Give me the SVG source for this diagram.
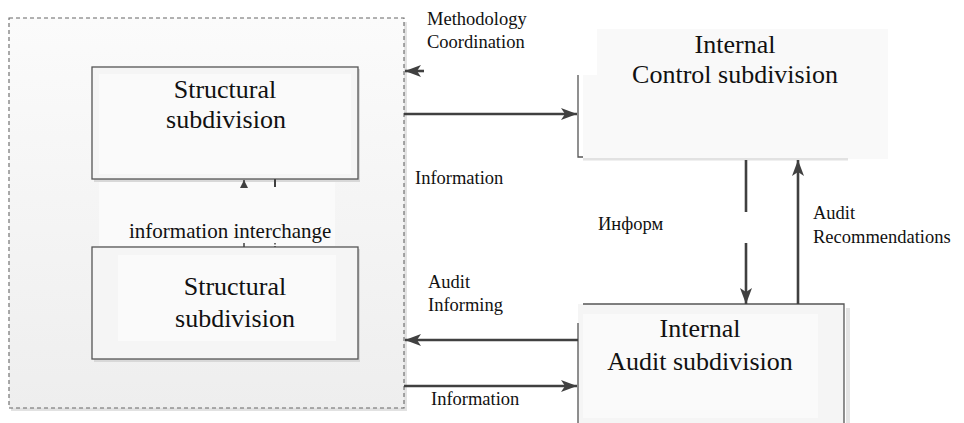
<svg xmlns="http://www.w3.org/2000/svg" width="964" height="423" viewBox="0 0 964 423">
<defs>
<linearGradient id="bg" x1="0" y1="0" x2="0" y2="1">
<stop offset="0" stop-color="#fbfbfb"/>
<stop offset="1" stop-color="#eeeeee"/>
</linearGradient>
<marker id="ah" viewBox="0 0 16 12" refX="16" refY="6" markerWidth="16" markerHeight="12" markerUnits="userSpaceOnUse" orient="auto">
<path d="M0,0 L16,6 L0,12 L4,6 Z" fill="#404040"/>
</marker>
<marker id="ahs" viewBox="0 0 8 8" refX="8" refY="4" markerWidth="8" markerHeight="8" markerUnits="userSpaceOnUse" orient="auto">
<path d="M0,0 L8,4 L0,8 Z" fill="#404040"/>
</marker>
</defs>
<style>
.lbl{font-family:"Liberation Serif","Times New Roman",serif;font-size:18.5px;fill:#111}
.big{font-family:"Liberation Serif","Times New Roman",serif;font-size:26px;fill:#111;text-anchor:middle}
.mid{font-family:"Liberation Serif","Times New Roman",serif;font-size:21px;fill:#111}
.box{fill:#f5f5f5;stroke:#555;stroke-width:1.3}
.inner{fill:#fafafa}
.shadow{fill:#d8d8d8}
.conn{stroke:#404040;stroke-width:2.6;fill:none}
</style>

<g id="container">
<rect x="11" y="22" width="396" height="389" fill="#e2e2e2"/>
<rect x="9" y="18" width="395" height="390" fill="url(#bg)" stroke="#666" stroke-width="1.1" stroke-dasharray="4,3"/>
<rect x="99" y="180" width="236" height="66" fill="#fafafa"/>
</g>

<g id="structural1">
<rect x="94" y="69" width="266" height="113" class="shadow"/>
<rect x="92" y="67" width="266" height="112" class="box"/>
<rect x="99" y="74" width="252" height="100" class="inner"/>
<text class="big" x="225" y="98">Structural</text>
<text class="big" x="226" y="128">subdivision</text>
</g>

<g id="structural2">
<rect x="94" y="249" width="266" height="113" class="shadow"/>
<rect x="92" y="247" width="266" height="112" class="box"/>
<rect x="118" y="255" width="218" height="86" class="inner"/>
<text class="big" x="235" y="295">Structural</text>
<text class="big" x="235" y="327">subdivision</text>
</g>

<g id="control">
<rect x="597" y="29" width="291" height="130" fill="#f9f9f9"/>
<rect x="583" y="75" width="305" height="84" fill="#f9f9f9"/>
<rect x="583" y="158" width="265" height="2.5" fill="#e2e2e2"/>
<path d="M578,75 V157 H583" fill="none" stroke="#555" stroke-width="1.3"/>
<text class="big" x="735" y="53">Internal</text>
<text class="big" x="735" y="83">Control subdivision</text>
</g>

<g id="audit">
<rect x="846" y="308" width="4" height="115" fill="#e4e4e4"/>
<rect x="578" y="304" width="266" height="125" fill="#f5f5f5"/>
<path d="M578,323 V423 M583,304 H844 V423" fill="none" stroke="#555" stroke-width="1.3"/>
<rect x="583" y="314" width="235" height="104" class="inner"/>
<text class="big" x="700" y="337">Internal</text>
<text class="big" x="700" y="370">Audit subdivision</text>
</g>

<g id="connectors">
<line class="conn" x1="424" y1="71" x2="405" y2="71" marker-end="url(#ah)"/>
<line class="conn" x1="404" y1="114" x2="577" y2="114" marker-end="url(#ah)"/>
<line class="conn" x1="578" y1="340" x2="405" y2="340" marker-end="url(#ah)"/>
<line class="conn" x1="404" y1="386" x2="577" y2="386" marker-end="url(#ah)"/>
<line class="conn" x1="746" y1="160" x2="746" y2="212"/>
<line class="conn" x1="746" y1="243" x2="746" y2="304" marker-end="url(#ah)"/>
<line class="conn" x1="798" y1="304" x2="798" y2="160" marker-end="url(#ah)"/>
<line x1="244" y1="187" x2="244" y2="180" stroke="#404040" stroke-width="1.5" marker-end="url(#ahs)"/>
<line x1="275" y1="179" x2="275" y2="187" stroke="#404040" stroke-width="2"/>
<line x1="244" y1="243" x2="244" y2="247" stroke="#404040" stroke-width="1.5"/>
<line x1="275" y1="243" x2="275" y2="247" stroke="#404040" stroke-width="1.5" stroke-dasharray="1.5,1.5"/>
</g>

<g id="labels">
<text class="lbl" x="427" y="25">Methodology</text>
<text class="lbl" x="427" y="48">Coordination</text>
<text class="lbl" x="415" y="184">Information</text>
<text class="lbl" x="598" y="230">Информ</text>
<text class="lbl" x="813" y="219">Audit</text>
<text class="lbl" x="813" y="243">Recommendations</text>
<text class="lbl" x="428" y="288">Audit</text>
<text class="lbl" x="428" y="311">Informing</text>
<text class="lbl" x="431" y="405">Information</text>
<text class="mid" x="129" y="238">information interchange</text>
</g>
</svg>
